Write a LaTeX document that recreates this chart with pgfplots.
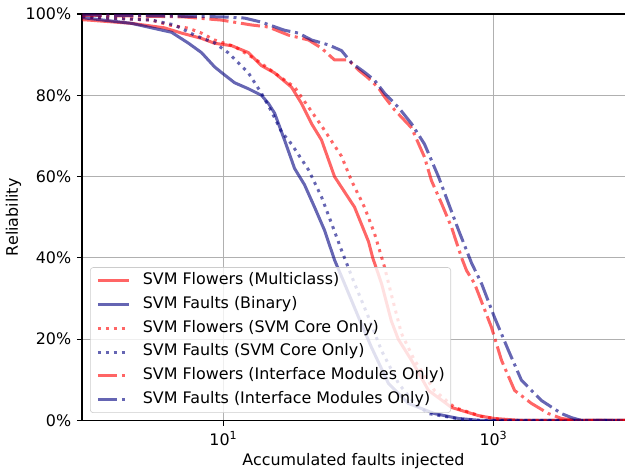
\documentclass[border=0pt]{standalone}
\usepackage{fontspec}
\setmainfont{DejaVu Sans}
\usepackage{pgfplots}
\pgfplotsset{compat=1.18}
\definecolor{navyc}{RGB}{0,0,128}
\definecolor{gridc}{RGB}{176,176,176}
\definecolor{legc}{RGB}{204,204,204}
\begin{document}
\fontsize{10.6pt}{12.7pt}\selectfont
\begin{tikzpicture}
\useasboundingbox (0,0) rectangle (416.67pt,314.0pt);
\begin{axis}[
    at={(54.67pt,33.67pt)}, anchor=south west,
    scale only axis, width=365.35pt, height=271.0pt,
    xmode=log, xmin=0.895, xmax=10257, ymin=0, ymax=100,
    xtick={10,1000}, xticklabels={10\textsuperscript{1},10\textsuperscript{3}},
    minor xtick={},
    ytick={0,20,40,60,80,100},
    yticklabels={0\%,20\%,40\%,60\%,80\%,100\%},
    tick pos=left, tick align=outside, major tick length=3.5pt,
    every tick/.style={black, line width=0.8pt},
    axis line style={line width=0.8pt},
    grid=major, major grid style={gridc, line width=0.8pt},
    xlabel={Accumulated faults injected}, ylabel={Reliability},
    xlabel style={at={(axis description cs:0.4954,-0.1)}, anchor=center},
    ylabel style={at={(axis description cs:-0.125,0.5)}, anchor=center},
    every axis plot/.append style={line width=2pt, mark=none, line join=round},
    legend image code/.code={\draw[#1] (0pt,0pt) -- (21pt,0pt);},
    legend cell align=left,
    legend style={at={(axis description cs:0.0146,0.0185)}, anchor=south west,
        draw=legc, fill=white, fill opacity=0.8, text opacity=1, rounded corners=2pt,
        inner xsep=4pt, inner ysep=3.5pt, row sep=5.6pt,
        nodes={inner sep=0pt, text height=7.8pt, text depth=2.5pt},
        /tikz/every odd column/.append style={column sep=8pt}},
]
% SVM Flowers (Multiclass)
\addplot[red, opacity=0.6] coordinates {
(0.9,98.6)(1,98.5)(2.08,97.7)(3.65,96.6)(4.89,95.3)(6.87,94.0)(8.58,92.8)
(11.5,92.2)(15.3,90.5)(19.1,87.3)(23.9,85.5)(31.9,82)(37.8,78)(44.9,73)
(53.2,69)(66.4,60)(93.4,52.5)(118.6,44)(127.5,40)(148,33.7)(175,24.5)
(197,20)(247,14.8)(330,7.4)(489,3.2)(774,1.2)(1016,0.5)(1610,0)(10257,0)};
\addlegendentry{SVM Flowers (Multiclass)}
% SVM Faults (Binary)
\addplot[navyc, opacity=0.6] coordinates {
(0.9,99.1)(2.08,97.7)(4.12,95.5)(5.51,92.8)(6.87,90.5)(8.58,87)(9.67,85.6)
(12.06,83.1)(15.3,81.6)(19.1,80)(21.5,78)(23.9,75.6)(28.3,69)(33.6,62)
(39.8,58)(47.2,52.5)(56,46.8)(66.4,39.5)(78.7,33.7)(100,25.4)(124.7,18)
(166.7,9.1)(234,4.2)(365,1.7)(551,0.5)(815,0)(10257,0)};
\addlegendentry{SVM Faults (Binary)}
% SVM Flowers (SVM Core Only)
\addplot[red, opacity=0.6, dash pattern=on 2pt off 3.3pt] coordinates {
(0.9,99.3)(2.93,98.5)(3.92,97.3)(5.51,96.5)(6.87,95.3)(8.58,93.6)(12.06,92)
(17.0,89)(23.9,85.5)(33.6,82)(44.9,76)(53.2,72.5)(74.8,65)(88.7,59)
(110.6,52.5)(131.4,46)(156,37.7)(175,31)(208,21.4)(260,14.8)(365,7.4)
(514,3.2)(815,1)(1248,0)(10257,0)};
\addlegendentry{SVM Flowers (SVM Core Only)}
% SVM Faults (SVM Core Only)
\addplot[navyc, opacity=0.6, dash pattern=on 2pt off 3.3pt] coordinates {
(0.9,99.3)(2.93,98.5)(4.34,97.3)(6.1,94.8)(8.58,92.9)(10.9,90.4)(15.3,85.5)
(19.1,80.5)(22.7,76)(26.9,71)(31.9,68)(42.7,61.6)(53.2,55)(63.1,48.5)
(74.8,41.9)(93.4,33.7)(118.6,25.4)(148,17.2)(198,9.1)(260,4.2)(330,1.7)
(579,0.3)(815,0)(10257,0)};
\addlegendentry{SVM Faults (SVM Core Only)}
% SVM Flowers (Interface Modules Only)
\addplot[red, opacity=0.6, dash pattern=on 12.8pt off 3.2pt on 2pt off 3.2pt] coordinates {
(0.9,99.7)(5,99.3)(9.67,98.5)(16.1,97.3)(21.5,96.8)(30.3,94.8)(42.7,93.6)
(53.2,91.6)(66.4,88.7)(84.3,88.7)(100,86.2)(118.6,84.2)(140.6,81.8)(156,79.6)
(185,76.4)(247,72)(308,64.8)(347,59)(412,53.4)(489,47.5)(579,40.1)(631,36.9)
(723,33.7)(966,22.9)(1146,14.8)(1432,7.4)(1910,4.2)(2552,1.7)(3190,0.5)
(4120,0)(10257,0)};
\addlegendentry{SVM Flowers (Interface Modules Only)}
% SVM Faults (Interface Modules Only)
\addplot[navyc, opacity=0.6, dash pattern=on 12.8pt off 3.2pt on 2pt off 3.2pt] coordinates {
(0.9,99.8)(9.67,99.3)(14.3,99)(19.1,98)(28.3,96)(35.9,95.3)(44.9,93.6)
(59.9,92.4)(74.8,91)(88.7,88)(110.6,85.7)(131.4,83.7)(156,80.5)(198,77)
(247,73)(308,68)(392,59.9)(464,53.4)(551,46.8)(688,38.7)(815,33.7)
(1016,25.4)(1291,17.2)(1610,9.9)(2268,4.9)(3190,1.7)(3785,0.7)(4490,0)(10257,0)};
\addlegendentry{SVM Faults (Interface Modules Only)}
\end{axis}
\end{tikzpicture}
\end{document}
